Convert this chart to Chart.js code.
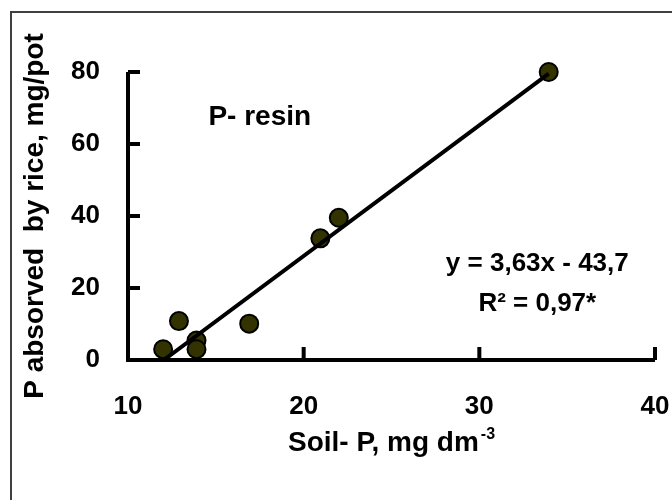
<!DOCTYPE html>
<html>
<head>
<meta charset="utf-8">
<script src="https://cdn.jsdelivr.net/npm/chart.js@4.4.0/dist/chart.umd.min.js"></script>
<style>
  html, body { margin: 0; padding: 0; background: #fff; }
  #wrap { width: 672px; height: 500px; }
</style>
</head>
<body>
<div id="wrap"><canvas id="c" width="672" height="500"></canvas></div>
<script>
// ======== Data ========
const soilP    = [12, 12.9, 13.9, 13.9, 16.9, 20.95, 22, 33.95];
const absorbed = [3, 10.8, 5.4, 3, 10.1, 33.8, 39.5, 80];
const slope = 3.63;
const intercept = -43.7;
const xTicks = [10, 20, 30, 40];
const yTicks = [0, 20, 40, 60, 80];
const xTitle = 'Soil- P, mg dm';
const xTitleSup = '-3';
const yTitle = 'P absorved  by rice, mg/pot';
const panelLabel = 'P- resin';
const eqLine1 = 'y = 3,63x - 43,7';
const eqLine2 = 'R\u00B2 = 0,97*';

// ======== Helpers ========
const FONT = "'Liberation Sans', Arial, sans-serif";
const points = soilP.map((x, i) => ({ x: x, y: absorbed[i] }));
const xMin = Math.min(...soilP), xMax = Math.max(...soilP);
const trendPts = [xMin, xMax].map(x => ({ x: x, y: slope * x + intercept }));

// frame, axes with inward ticks, annotations
const decor = {
  id: 'decor',
  beforeDraw(c) {
    const g = c.ctx;
    g.save();
    g.fillStyle = '#fff';
    g.fillRect(0, 0, c.width, c.height);
    g.strokeStyle = '#404040';
    g.lineWidth = 2;
    g.strokeRect(11, 12, c.width + 20, c.height + 20);
    g.restore();
  },
  beforeDatasetsDraw(c) {
    const g = c.ctx, xs = c.scales.x, ys = c.scales.y;
    const x0 = xs.getPixelForValue(xs.min), x1 = xs.getPixelForValue(xs.max);
    const y0 = ys.getPixelForValue(ys.min), y1 = ys.getPixelForValue(ys.max);
    g.save();
    g.strokeStyle = '#000';
    g.lineWidth = 4;
    g.lineJoin = 'miter';
    g.beginPath();
    g.moveTo(x0, y1); g.lineTo(x0, y0); g.lineTo(x1, y0);
    yTicks.forEach(v => { const p = ys.getPixelForValue(v); g.moveTo(x0, p); g.lineTo(x0 + 12, p); });
    xTicks.forEach(v => { const p = xs.getPixelForValue(v); g.moveTo(p, y0); g.lineTo(p, y0 - 13); });
    g.stroke();
    g.restore();
  },
  afterDraw(c) {
    const g = c.ctx, xs = c.scales.x, ys = c.scales.y, a = c.chartArea;
    g.save();
    g.fillStyle = '#000';
    g.textAlign = 'center';
    g.textBaseline = 'middle';
    g.font = 'bold 28px ' + FONT;
    g.fillText(panelLabel, xs.getPixelForValue(17.5), ys.getPixelForValue(67.5));
    g.font = 'bold 26px ' + FONT;
    g.fillText(eqLine1, xs.getPixelForValue(33.3), ys.getPixelForValue(26.7));
    g.fillText(eqLine2, xs.getPixelForValue(33.3), ys.getPixelForValue(15.6));

    // x title with superscript
    g.textAlign = 'left';
    g.font = 'bold 28px ' + FONT;
    const w1 = g.measureText(xTitle).width;
    g.font = 'bold 16px ' + FONT;
    const w2 = g.measureText(xTitleSup).width;
    const cx = (a.left + a.right) / 2;
    let sx = cx - (w1 + 2 + w2) / 2;
    const ty = 443;
    g.font = 'bold 28px ' + FONT;
    g.fillText(xTitle, sx, ty);
    g.font = 'bold 16px ' + FONT;
    g.fillText(xTitleSup, sx + w1 + 2, ty - 8);
    g.restore();
  }
};

// ======== Chart ========
const ctx = document.getElementById('c').getContext('2d');
const chart = new Chart(ctx, {
  type: 'scatter',
  data: {
    datasets: [
      {
        label: 'trend',
        data: trendPts,
        showLine: true,
        borderColor: '#000',
        borderWidth: 4,
        pointRadius: 0,
        order: 0
      },
      {
        label: panelLabel,
        data: points,
        backgroundColor: '#333300',
        borderColor: '#000',
        borderWidth: 2,
        pointRadius: 9,
        clip: false,
        order: 1
      }
    ]
  },
  options: {
    responsive: false,
    animation: false,
    layout: { padding: { left: 18, top: 72, right: 17, bottom: 42 } },
    plugins: { legend: { display: false }, tooltip: { enabled: false } },
    scales: {
      x: {
        type: 'linear',
        min: 10, max: 40,
        afterBuildTicks: s => { s.ticks = xTicks.map(v => ({ value: v })); },
        afterFit: s => { s.height = 98; },
        grid: { display: false, drawTicks: true, tickLength: 31 },
        border: { display: false },
        ticks: { color: '#000', padding: 0, maxRotation: 0, font: { family: FONT, size: 26, weight: 'bold' } },
        title: { display: false }
      },
      y: {
        type: 'linear',
        min: 0, max: 80,
        afterBuildTicks: s => { s.ticks = yTicks.map(v => ({ value: v })); },
        afterFit: s => { s.width = 110; },
        grid: { display: false, drawTicks: false },
        border: { display: false },
        ticks: { color: '#000', padding: 28, font: { family: FONT, size: 26, weight: 'bold' } },
        title: { display: true, text: yTitle, color: '#000', padding: 0, font: { family: FONT, size: 28, weight: 'bold' } }
      }
    }
  },
  plugins: [decor]
});
</script>
</body>
</html>
